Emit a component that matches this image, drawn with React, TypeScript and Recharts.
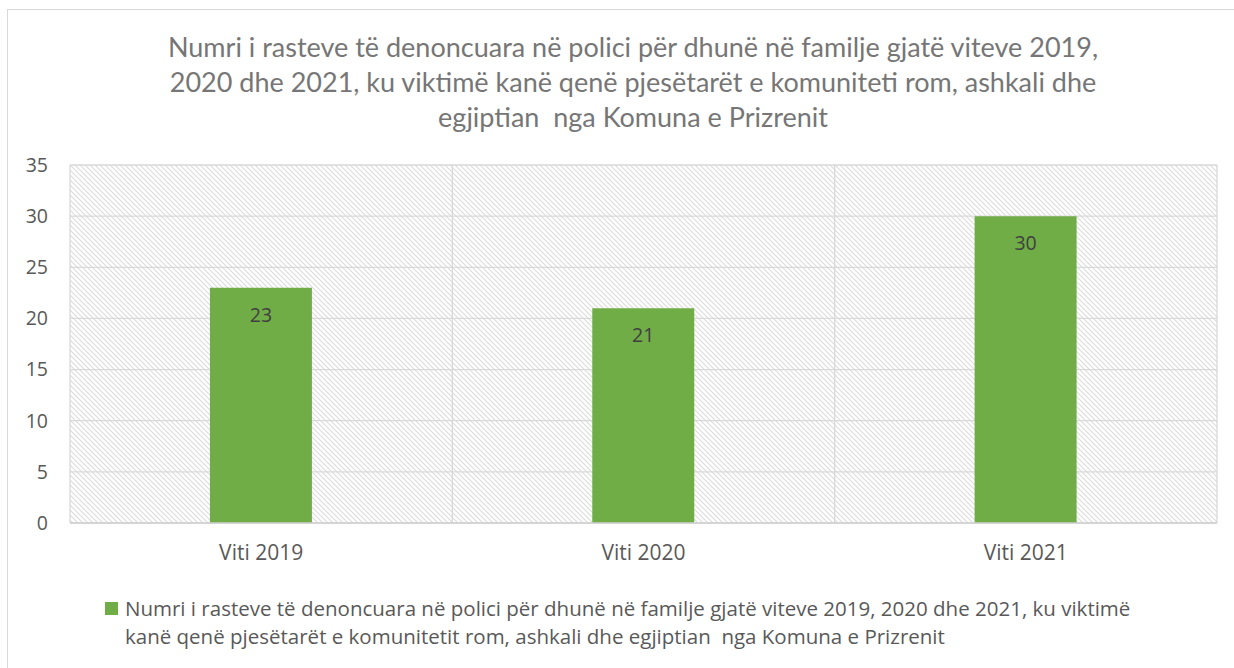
import { Bar, BarChart, CartesianGrid, LabelList, Legend, XAxis, YAxis } from "recharts";

const years = ["Viti 2019", "Viti 2020", "Viti 2021"];
const cases = [23, 21, 30];
const yTicks = [0, 5, 10, 15, 20, 25, 30, 35];

const seriesName =
  "Numri i rasteve të denoncuara në polici për dhunë në familje gjatë viteve 2019, 2020 dhe 2021, ku viktimë kanë qenë pjesëtarët e komunitetit rom, ashkali dhe egjiptian  nga Komuna e Prizrenit";

const titleLines = [
  "Numri i rasteve të denoncuara në polici për dhunë në familje gjatë viteve 2019,",
  "2020 dhe 2021, ku viktimë kanë qenë pjesëtarët e komuniteti rom, ashkali dhe",
  "egjiptian  nga Komuna e Prizrenit",
];

const data = years.map((y, i) => ({ year: y, value: cases[i] }));

const FONT = "'Open Sans', sans-serif";
const TITLE_FONT = "Lato, sans-serif";

function LegendBox() {
  return (
    <div
      style={{
        fontFamily: FONT,
        fontSize: 20.5,
        color: "#595959",
        lineHeight: "28px",
        textAlign: "left",
        whiteSpace: "pre-wrap",
        paddingLeft: 20,
        position: "relative",
      }}
    >
      <span
        style={{
          position: "absolute",
          left: 0,
          top: 8,
          width: 13,
          height: 13,
          background: "#70ad47",
        }}
      />
      {seriesName}
    </div>
  );
}

export default function App() {
  return (
    <div
      style={{
        position: "absolute",
        left: 0,
        top: 0,
        width: 1234,
        height: 668,
        background: "#fff",
        overflow: "hidden",
      }}
    >
      <div
        style={{
          position: "absolute",
          left: 7,
          top: 9,
          width: 1300,
          height: 700,
          borderTop: "1px solid #d9d9d9",
          borderLeft: "1px solid #d9d9d9",
        }}
      />
      <div
        style={{
          position: "absolute",
          left: 0,
          top: 29,
          width: 1266,
          textAlign: "center",
          fontFamily: TITLE_FONT,
          fontSize: 27,
          lineHeight: "35px",
          color: "#767676",
          whiteSpace: "pre",
        }}
      >
        {titleLines.map((l) => (
          <div key={l}>{l}</div>
        ))}
      </div>
      <BarChart
        width={1234}
        height={668}
        data={data}
        margin={{ top: 165, right: 17, bottom: 105, left: 20 }}
        barCategoryGap="36.6%"
        style={{ position: "absolute", left: 0, top: 0 }}
      >
        <defs>
          <pattern id="hatch" width="5" height="5" patternUnits="userSpaceOnUse">
            <rect width="5" height="5" fill="#ffffff" />
            <path d="M0,0 L5,5 M-1,4 L1,6 M4,-1 L6,1" stroke="#dcdcdc" strokeWidth={1.1} />
          </pattern>
        </defs>
        <CartesianGrid
          stroke="#d9d9d9"
          strokeWidth={1.3}
          fill="url(#hatch)"
          fillOpacity={1}
          verticalCoordinatesGenerator={({ offset }: any) =>
            years.map((_, i) => offset.left + (i * offset.width) / years.length).concat(offset.left + offset.width)
          }
        />
        <XAxis
          dataKey="year"
          axisLine={{ stroke: "#d0d0d0", strokeWidth: 1.5 }}
          tickLine={false}
          tickSize={0}
          tickMargin={22}
          height={40}
          tick={{ fontFamily: FONT, fontSize: 21, fill: "#595959" }}
        />
        <YAxis
          domain={[0, 35]}
          ticks={yTicks}
          width={50}
          axisLine={false}
          tickLine={false}
          tickSize={0}
          tickMargin={22}
          tick={{ fontFamily: FONT, fontSize: 19.5, fill: "#595959" }}
        />
        <Legend
          layout="horizontal"
          verticalAlign="middle"
          align="center"
          wrapperStyle={{ position: "absolute", left: 105, top: 594, width: 1040, height: 60 }}
          content={() => <LegendBox />}
        />
        <Bar dataKey="value" name={seriesName} fill="#70ad47" isAnimationActive={false}>
          <LabelList
            dataKey="value"
            position="insideTop"
            offset={20}
            style={{ fontFamily: FONT, fontSize: 19.5, fill: "#404040" }}
          />
        </Bar>
      </BarChart>
    </div>
  );
}
